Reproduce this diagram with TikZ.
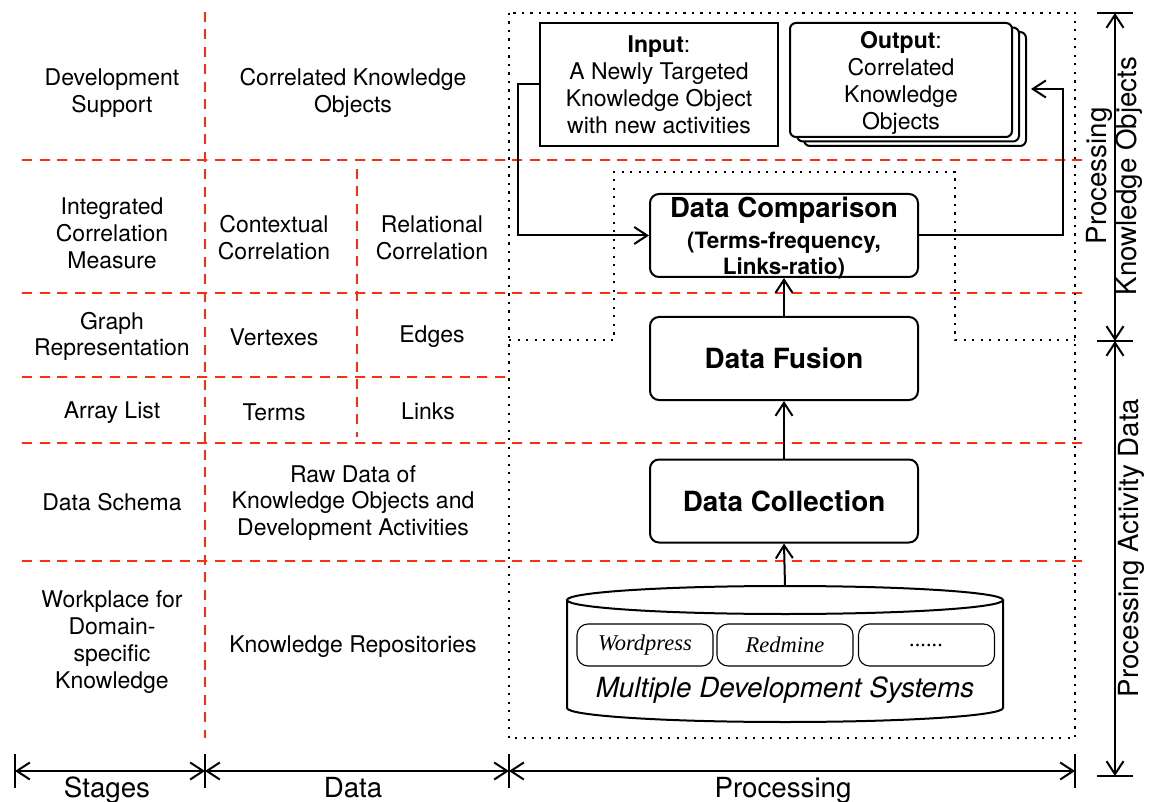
\documentclass[tikz,border=0pt]{standalone}
\usepackage{fontspec}
\setmainfont{TeX Gyre Heros}
\newfontfamily\tmsfont{Liberation Serif}
\usetikzlibrary{arrows.meta}
\definecolor{redd}{RGB}{255,45,15}
\begin{document}
\begin{tikzpicture}[x=1pt,y=-1pt,
  txt/.style={align=center, inner sep=0pt, font=\fontsize{23}{26.8}\selectfont},
  lbl/.style={align=center, inner sep=0pt, font=\fontsize{27.7}{30}\selectfont},
  redl/.style={draw=redd, line width=2.2pt, dash pattern=on 10pt off 7.5pt},
  dotl/.style={draw, line width=2.2pt, dash pattern=on 2.2pt off 6.3pt},
  procbox/.style={draw, line width=2pt, minimum width=268pt, minimum height=83pt, rounded corners=9pt, align=center, inner sep=0pt},
  outbox/.style={draw, fill=white, line width=2pt, minimum width=222pt, minimum height=114pt, rounded corners=6pt, align=center, inner sep=0pt, font=\fontsize{23}{27}\selectfont},
  sysbox/.style={draw, line width=1.1pt, minimum width=136pt, minimum height=42pt, rounded corners=11pt, inner sep=0pt, font=\fontsize{22.5}{26}\tmsfont\itshape},
  arr/.style={line width=2pt, -{Straight Barb[length=13pt,width=17pt]}},
  darr/.style={line width=2pt, {Straight Barb[length=13pt,width=17pt]}-{Straight Barb[length=13pt,width=17pt]}},
  tick/.style={line width=2pt}
]
\useasboundingbox (0,0) rectangle (1154,802);

% grid of red dashed lines
\draw[redl] (22,160) -- (1083,160);
\draw[redl] (22,293) -- (1083,293);
\draw[redl] (22,377) -- (509,377);
\draw[redl] (22,443) -- (1083,443);
\draw[redl] (22,561) -- (1083,561);
\draw[redl] (205,12) -- (205,738);
\draw[redl] (357,169) -- (357,437);

% dotted frames
\draw[dotl] (509,13) rectangle (1075,738);
\draw[dotl] (509,340) -- (614,340) -- (614,172) -- (955,172) -- (955,340) -- (1075,340);

% left column texts
\node[txt] (dev) at (112,93) {Development\\Support};
\node[txt] (icm) at (112,233) {Integrated\\Correlation\\Measure};
\node[txt] (graph) at (112,336.5) {Graph\\Representation};
\node[txt] (array) at (112,413) {Array List};
\node[txt] (schema) at (112,502) {Data Schema};
\node[txt] (work) at (112,642) {Workplace for\\Domain-\\specific\\Knowledge};

% data column texts
\node[txt] (cko) at (353,93) {Correlated Knowledge\\Objects};
\node[txt] (ctx) at (274,238) {Contextual\\Correlation};
\node[txt] (rel) at (432,238) {Relational\\Correlation};
\node[txt] (vert) at (274,337) {Vertexes};
\node[txt] (edge) at (432,337) {Edges};
\node[txt] (terms) at (274,412) {Terms};
\node[txt] (links) at (428,411) {Links};
\node[txt] (raw) at (353,503) {Raw Data of\\Knowledge Objects and\\Development Activities};
\node[txt] (repo) at (353,647) {Knowledge Repositories};

% input / output
\node[draw, line width=2pt, minimum width=238pt, minimum height=123pt, inner sep=0pt, align=center, font=\fontsize{23}{27}\selectfont] (input) at (659,84.5) {\textbf{Input}:\\A Newly Targeted\\Knowledge Object\\with new activities};
\node[outbox] (out3) at (915,89) {};
\node[outbox] (out2) at (908,84.5) {};
\node[outbox] (output) at (901,80) {};
\node[txt, font=\fontsize{23}{27}\selectfont] (outtxt) at (901,82.5) {\textbf{Output}:\\Correlated\\Knowledge\\Objects};

% processing boxes
\node[procbox] (dc) at (784,235.5) {};
\node[align=center, inner sep=0pt, font=\fontsize{22.5}{26}\selectfont\bfseries] (dctxt) at (784,238) {{\fontsize{27.5}{30}\selectfont Data Comparison}\\[5pt](Terms-frequency,\\Links-ratio)};
\node[procbox, font=\fontsize{27.8}{30}\selectfont\bfseries] (df) at (784,358.5) {Data Fusion};
\node[procbox, font=\fontsize{27.8}{30}\selectfont\bfseries] (dcol) at (784,501) {Data Collection};

% cylinder
\draw[line width=2pt] (567,600) -- (567,708) arc[start angle=180, end angle=0, x radius=218, y radius=14] -- (1003,600);
\draw[line width=2pt] (785,600) ellipse [x radius=218, y radius=14];
\coordinate (cyltop) at (785,586);
\node[sysbox] (wp) at (645,645) {Wordpress};
\node[sysbox] (rm) at (785,645) {Redmine};
\node[sysbox] (etc) at (926.5,645) {......};
\node[font=\fontsize{27.8}{30}\selectfont\itshape, inner sep=0pt] (mds) at (785,690) {Multiple Development Systems};

% connectors
\draw[arr] (cyltop) -- (dcol.south);
\draw[arr] (dcol.north) -- (df.south);
\draw[arr] (df.north) -- (dc.south);
\draw[arr] (input.west) -- ++(-21,0) |- (dc.west);
\draw[arr] (dc.east) -- ++(144,0) |- ([xshift=4pt]out3.east);

% right dimension arrows
\coordinate (r1) at (1115,13);
\coordinate (r2) at (1115,341);
\coordinate (r3) at (1115,776);
\draw[darr] (r1) -- (r2);
\draw[darr] (r2) -- (r3);
\draw[tick] ([xshift=-18pt]r1) -- ([xshift=18pt]r1);
\draw[tick] ([xshift=-18pt]r2) -- ([xshift=18pt]r2);
\draw[tick] ([xshift=-18pt]r3) -- ([xshift=18pt]r3);
\node[lbl, rotate=90] (pko) at (1114,176) {Processing\\Knowledge Objects};
\node[lbl, rotate=90] (pad) at (1131,548) {Processing Activity Data};

% bottom dimension arrows
\coordinate (b1) at (15,771);
\coordinate (b2) at (205,771);
\coordinate (b3) at (509,771);
\coordinate (b4) at (1075,771);
\draw[darr] (b1) -- (b2);
\draw[darr] (b2) -- (b3);
\draw[darr] (b3) -- (b4);
\foreach \b in {b1,b2,b3,b4} \draw[tick] ([yshift=-17pt]\b) -- ([yshift=17pt]\b);
\node[lbl, anchor=base] (stages) at (107,797) {Stages};
\node[lbl, anchor=base] (datal) at (353,797) {Data};
\node[lbl, anchor=base] (procl) at (783,797) {Processing};
\end{tikzpicture}
\end{document}
